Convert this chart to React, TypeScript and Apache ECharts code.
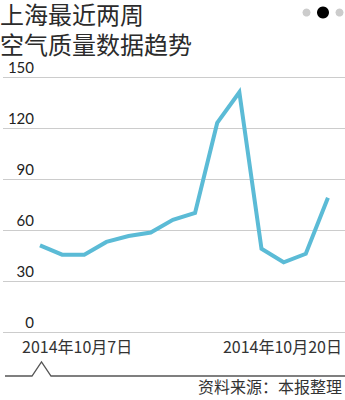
import React, { useEffect, useRef } from "react";
import * as echarts from "echarts";

const titleLines = ["上海最近两周", "空气质量数据趋势"];
const dates = [
  "2014年10月7日", "2014年10月8日", "2014年10月9日", "2014年10月10日",
  "2014年10月11日", "2014年10月12日", "2014年10月13日", "2014年10月14日",
  "2014年10月15日", "2014年10月16日", "2014年10月17日", "2014年10月18日",
  "2014年10月19日", "2014年10月20日",
];
const aqi = [51, 45.5, 45.5, 53, 56.5, 58.5, 66, 70, 123, 141, 49, 41, 46, 79];
const yTicks = { min: 0, max: 150, interval: 30 };
const sourceText = "资料来源：本报整理";

export default function App() {
  const ref = useRef<HTMLDivElement>(null);
  useEffect(() => {
    document.body.style.margin = "0";
    if (!ref.current) return;
    const chart = echarts.init(ref.current, undefined, { renderer: "svg" });
    const cjk = '"Noto Sans CJK SC", sans-serif';
    chart.setOption({
      animation: false,
      backgroundColor: "#ffffff",
      grid: { left: 3, right: 0, top: 77, bottom: 68 },
      xAxis: {
        type: "value",
        min: -1.67,
        max: 13.77,
        show: false,
      },
      yAxis: {
        type: "value",
        min: yTicks.min,
        max: yTicks.max,
        interval: yTicks.interval,
        axisLine: { show: false },
        axisTick: { show: false },
        splitLine: { show: true, lineStyle: { color: "#cccccc", width: 1 } },
        axisLabel: {
          inside: true,
          align: "right",
          margin: 31,
          verticalAlign: "bottom",
          padding: [0, 0, 3, 0],
          lineHeight: 15,
          color: "#222222",
          fontSize: 15,
          fontFamily: "Lato, sans-serif",
        },
      },
      series: [
        {
          type: "line",
          data: aqi.map((v, i) => [i, v]),
          symbol: "none",
          lineStyle: { color: "#5bbbd6", width: 4, join: "miter" },
        },
      ],
      graphic: [
        {
          type: "text", left: 0, top: 0,
          style: { text: titleLines[0], fontSize: 24, lineHeight: 26, fill: "#2b2b2b", fontFamily: cjk },
        },
        {
          type: "text", left: 0, top: 30,
          style: { text: titleLines[1], fontSize: 24, lineHeight: 26, fill: "#2b2b2b", fontFamily: cjk },
        },
        { type: "circle", shape: { cx: 306.5, cy: 12.5, r: 4 }, style: { fill: "#cccccc" } },
        { type: "circle", shape: { cx: 323, cy: 12.5, r: 6 }, style: { fill: "#000000" } },
        { type: "circle", shape: { cx: 339.5, cy: 12.5, r: 4 }, style: { fill: "#cccccc" } },
        {
          type: "text", left: 22, top: 338,
          style: { text: dates[0], fontSize: 16, fill: "#333333", fontFamily: cjk },
        },
        {
          type: "text", right: 3, top: 338,
          style: { text: dates[dates.length - 1], fontSize: 16, fill: "#333333", fontFamily: cjk },
        },
        {
          type: "polyline",
          shape: { points: [[5, 376], [32, 376], [41.5, 362], [51, 376], [345, 376]] },
          style: { stroke: "#555555", lineWidth: 1.3, fill: null },
        },
        {
          type: "text", right: 3, top: 378,
          style: { text: sourceText, fontSize: 16, fill: "#333333", fontFamily: cjk },
        },
      ],
    });
    return () => chart.dispose();
  }, []);
  return <div ref={ref} style={{ width: 345, height: 400 }} />;
}
